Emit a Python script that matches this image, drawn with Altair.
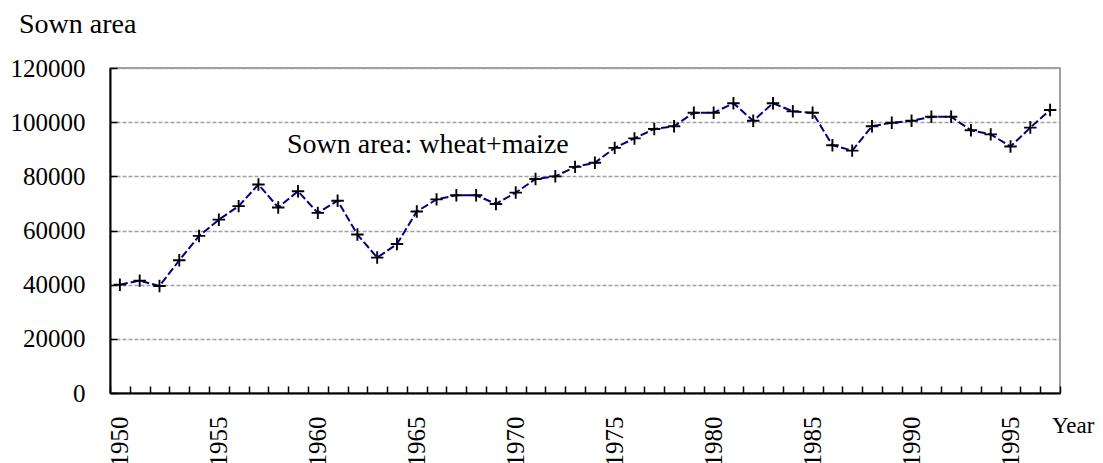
import altair as alt
import pandas as pd

YEARS = list(range(1950, 1998))
SOWN_AREA = [
    40000, 41500, 39500, 49000, 58000, 64000, 69000, 77000, 68500, 74500,
    66500, 71000, 58500, 50000, 55000, 67000, 71500, 73000, 73000, 69800,
    74000, 79000, 80000, 83500, 85000, 90500, 94000, 97500, 98500, 103500,
    103500, 107000, 100500, 107000, 104000, 103500, 91500, 89500, 98500, 99800,
    100500, 102000, 102000, 97000, 95500, 91000, 98000, 104500,
]
Y_TICKS = [0, 20000, 40000, 60000, 80000, 100000, 120000]
X_LABEL_YEARS = [1950, 1955, 1960, 1965, 1970, 1975, 1980, 1985, 1990, 1995]
TITLE_TEXT = ["Sown area"]
ANNOTATION_TEXT = ["Sown area: wheat+maize"]
X_AXIS_TEXT = ["Year"]

FONT = "Liberation Serif"
W, H = 950, 325

df = pd.DataFrame({"year": YEARS, "area": SOWN_AREA})
boundaries = [y - 0.5 for y in YEARS] + [YEARS[-1] + 0.5]

xscale = alt.Scale(domain=[YEARS[0] - 0.5, YEARS[-1] + 0.5], nice=False, zero=False)
yscale = alt.Scale(domain=[0, 120000], nice=False)

base = alt.Chart(df)

line = base.mark_line(color="#000080", strokeWidth=2, strokeDash=[8, 3]).encode(
    x=alt.X("year:Q", scale=xscale,
            axis=alt.Axis(orient="bottom", values=X_LABEL_YEARS, labelAngle=270,
                          labelFont=FONT, labelFontSize=25, labelColor="black",
                          labelPadding=23, ticks=False, tickSize=0, domain=True,
                          domainColor="black", domainWidth=2, grid=False,
                          title=None, format="d", labelOverlap=False, zindex=1)),
    y=alt.Y("area:Q", scale=yscale,
            axis=alt.Axis(orient="left", values=Y_TICKS, labelFont=FONT,
                          labelFontSize=25, labelColor="black", labelPadding=25,
                          ticks=False, tickSize=0, domain=True, domainColor="black",
                          domainWidth=2, grid=True, gridColor="#a0a0a0",
                          gridDash=[4, 2], gridWidth=1.3, title=None,
                          format="d", labelOverlap=False)),
)

points = base.mark_point(
    shape="M-1,0L1,0M0,-1L0,1", filled=False, color="black",
    strokeWidth=1.9, size=155, opacity=1,
).encode(x=alt.X("year:Q", scale=xscale, axis=None),
         y=alt.Y("area:Q", scale=yscale, axis=None))

ticks = base.mark_line(opacity=0).encode(
    x=alt.X("year:Q", scale=xscale,
            axis=alt.Axis(orient="bottom", values=boundaries, offset=-7,
                          tickSize=7, tickColor="black", tickWidth=1.5,
                          labels=False, domain=False, grid=False, title=None)),
    y=alt.Y("area:Q", scale=yscale,
            axis=alt.Axis(orient="left", values=Y_TICKS, offset=-7,
                          tickSize=7, tickColor="black", tickWidth=1.5,
                          labels=False, domain=False, grid=False, title=None)),
)

title = alt.Chart(pd.DataFrame({"t": TITLE_TEXT})).mark_text(
    font=FONT, fontSize=28, align="left", baseline="alphabetic", color="black"
).encode(text="t:N", x=alt.value(-91), y=alt.value(-35))

annotation = alt.Chart(pd.DataFrame({"t": ANNOTATION_TEXT})).mark_text(
    font=FONT, fontSize=28, align="left", baseline="alphabetic", color="black"
).encode(text="t:N", x=alt.value(177), y=alt.value(85))

xtitle = alt.Chart(pd.DataFrame({"t": X_AXIS_TEXT})).mark_text(
    font=FONT, fontSize=23, align="left", baseline="alphabetic", color="black"
).encode(text="t:N", x=alt.value(942), y=alt.value(365))

chart = alt.layer(line, ticks, points, title, annotation, xtitle).resolve_axis(
    x="independent", y="independent"
).properties(
    width=W, height=H,
    autosize=alt.AutoSizeParams(type="none"),
    padding={"left": 102, "top": 60, "right": 35, "bottom": 70},
).configure_view(stroke="#808080", strokeWidth=1.5)

chart.save("out.html", embed_options={"renderer": "svg", "actions": False})
